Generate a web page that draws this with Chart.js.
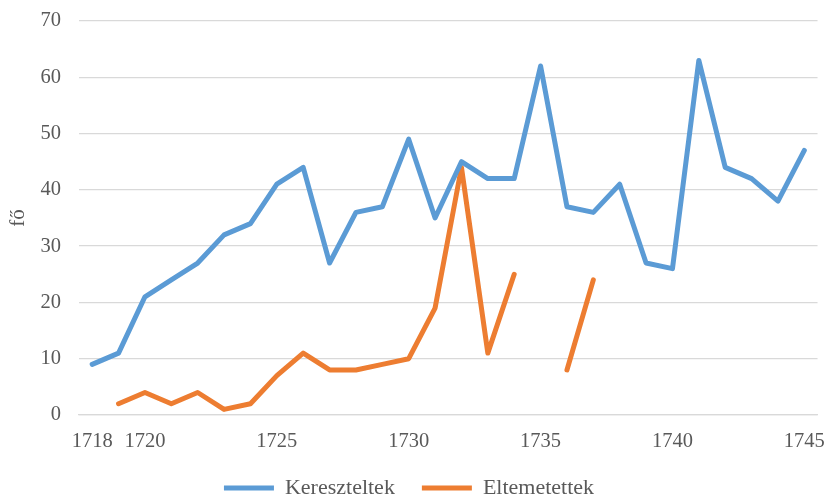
<!DOCTYPE html>
<html>
<head>
<meta charset="utf-8">
<script src="https://cdn.jsdelivr.net/npm/chart.js@4/dist/chart.umd.min.js"></script>
<style>
  html, body { margin: 0; padding: 0; background: #fff; }
  #wrap { width: 827px; height: 497px; }
</style>
</head>
<body>
<div id="wrap"><canvas id="chart" width="827" height="497"></canvas></div>
<script>
// years on the x axis
var years = [1718, 1719, 1720, 1721, 1722, 1723, 1724, 1725, 1726, 1727,
             1728, 1729, 1730, 1731, 1732, 1733, 1734, 1735, 1736, 1737,
             1738, 1739, 1740, 1741, 1742, 1743, 1744, 1745];
// only these years get a label
var shownYears = [1718, 1720, 1725, 1730, 1735, 1740, 1745];

var kereszteltek = [9, 11, 21, 24, 27, 32, 34, 41, 44, 27,
                    36, 37, 49, 35, 45, 42, 42, 62, 37, 36,
                    41, 27, 26, 63, 44, 42, 38, 47];
var eltemetettek = [null, 2, 4, 2, 4, 1, 2, 7, 11, 8,
                    8, 9, 10, 19, 44, 11, 25, null, 8, 24,
                    null, null, null, null, null, null, null, null];

var yTicks = [0, 10, 20, 30, 40, 50, 60, 70];

var BLUE = '#5B9BD5';
var ORANGE = '#ED7D31';
var TEXT = '#595959';
var GRID = '#D9D9D9';
var FONT = "'Liberation Serif', 'Times New Roman', serif";

Chart.defaults.font.family = FONT;
Chart.defaults.color = TEXT;

function lineSet(label, data, color) {
  return {
    label: label,
    data: data,
    borderColor: color,
    backgroundColor: color,
    borderWidth: 5,
    borderCapStyle: 'round',
    borderJoinStyle: 'round',
    pointRadius: 0,
    pointHoverRadius: 0,
    tension: 0,
    spanGaps: false
  };
}

// keep the legend box short so it sits near the bottom edge
var legendHeight = {
  id: 'legendHeight',
  beforeInit: function(chart) {
    var lg = chart.legend;
    if (!lg) return;
    var origFit = lg.fit;
    lg.fit = function() {
      origFit.call(this);
      this.height = 47;
    };
  }
};

var ctx = document.getElementById('chart').getContext('2d');
var chart = new Chart(ctx, {
  type: 'line',
  data: {
    labels: years,
    datasets: [
      lineSet('Kereszteltek', kereszteltek, BLUE),
      lineSet('Eltemetettek', eltemetettek, ORANGE)
    ]
  },
  plugins: [legendHeight],
  options: {
    responsive: false,
    animation: false,
    layout: { padding: { top: 21, right: 9, left: 0, bottom: 0 } },
    plugins: {
      tooltip: { enabled: false },
      legend: {
        position: 'bottom',
        labels: {
          boxWidth: 50,
          boxHeight: 5,
          padding: 27,
          color: TEXT,
          font: { size: 22, family: FONT },
          generateLabels: function(c) {
            return c.data.datasets.map(function(ds, i) {
              return {
                text: ds.label,
                fillStyle: ds.borderColor,
                strokeStyle: ds.borderColor,
                lineWidth: 0,
                fontColor: TEXT,
                datasetIndex: i
              };
            });
          }
        }
      }
    },
    scales: {
      x: {
        type: 'category',
        offset: true,
        grid: { display: false, drawTicks: true, tickLength: 12 },
        border: { display: true, color: GRID, width: 1.3 },
        ticks: {
          autoSkip: false,
          maxRotation: 0,
          padding: 2,
          color: TEXT,
          font: { size: 20.5 },
          callback: function(val, idx) {
            var y = years[idx];
            return shownYears.indexOf(y) >= 0 ? String(y) : '';
          }
        },
        afterFit: function(scale) { scale.height = 35; }
      },
      y: {
        min: 0,
        max: 70,
        afterBuildTicks: function(scale) {
          scale.ticks = yTicks.map(function(v) { return { value: v }; });
        },
        grid: { color: GRID, lineWidth: 1.3, drawTicks: true, tickLength: 16, tickColor: 'rgba(0,0,0,0)' },
        border: { display: false },
        ticks: {
          padding: 2,
          color: TEXT,
          font: { size: 20.5 }
        },
        title: {
          display: true,
          text: 'fő',
          color: TEXT,
          font: { size: 21 },
          padding: { top: 6, bottom: 4 }
        },
        afterFit: function(scale) { scale.width = 79; }
      }
    }
  }
});
</script>
</body>
</html>
